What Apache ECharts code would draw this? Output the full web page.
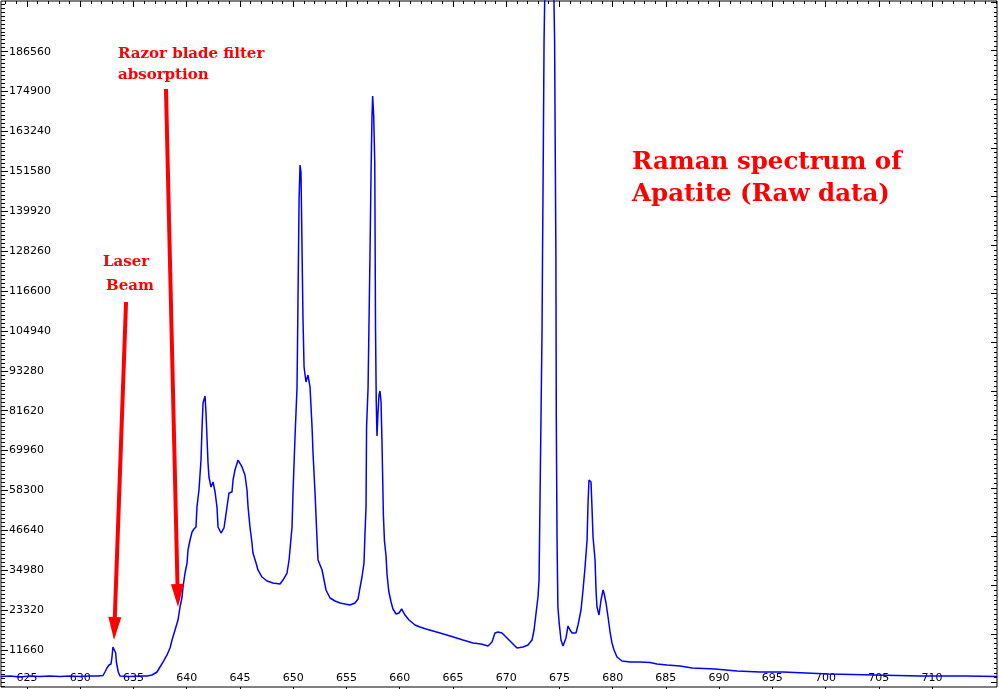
<!DOCTYPE html>
<html><head><meta charset="utf-8">
<script src="https://cdn.jsdelivr.net/npm/echarts@6/dist/echarts.min.js"></script>
<style>html,body{margin:0;padding:0;background:#fff}#c{width:999px;height:689px}</style>
</head><body><div id="c"></div>
<script>
// Wavelength (nm) and raw intensity (counts)
const wavelength = [
622.56, 623.40, 624.34, 625.28, 626.22, 627.16, 628.10, 629.04, 629.98, 630.92,
631.67, 632.14, 632.32, 632.51, 632.70, 632.89, 632.98, 633.07, 633.22, 633.33,
633.39, 633.48, 633.57, 633.73, 634.67, 635.61, 636.27, 636.74, 637.21, 637.49,
637.77, 638.15, 638.43, 638.62, 638.90, 639.18, 639.37, 639.56, 639.65, 639.84,
640.03, 640.12, 640.31, 640.50, 640.68, 640.87, 640.96, 641.15, 641.34, 641.43,
641.53, 641.72, 641.81, 641.90, 642.00, 642.09, 642.28, 642.47, 642.66, 642.84,
642.94, 643.22, 643.50, 643.78, 643.97, 644.25, 644.35, 644.53, 644.82, 645.19,
645.47, 645.66, 645.76, 645.94, 646.13, 646.22, 646.51, 646.69, 647.07, 647.54,
648.10, 648.76, 649.04, 649.42, 649.61, 649.89, 649.98, 650.17, 650.36, 650.45,
650.55, 650.64, 650.73, 650.83, 650.92, 651.02, 651.20, 651.39, 651.58, 651.77,
651.86, 652.05, 652.24, 652.33, 652.71, 653.08, 653.46, 653.93, 654.40, 654.86,
655.33, 655.80, 656.09, 656.27, 656.46, 656.65, 656.74, 656.84, 656.89, 657.03,
657.21, 657.31, 657.40, 657.46, 657.56, 657.66, 657.73, 657.80, 657.87, 657.96,
658.06, 658.15, 658.25, 658.34, 658.47, 658.57, 658.72, 658.81, 658.97, 659.19,
659.37, 659.66, 659.94, 660.18, 660.50, 660.88, 661.44, 661.91, 662.47, 663.13,
663.79, 664.73, 665.95, 666.89, 667.64, 668.30, 668.67, 668.95, 669.24, 669.61,
670.08, 670.55, 671.02, 671.58, 672.05, 672.43, 672.62, 672.81, 672.99, 673.09,
673.18, 673.27, 673.37, 673.42, 673.49, 673.56, 674.05, 674.55, 674.61, 674.67,
674.71, 674.78, 674.86, 674.98, 675.15, 675.34, 675.62, 675.81, 676.00, 676.19,
676.56, 676.75, 677.03, 677.22, 677.41, 677.60, 677.69, 677.78, 677.97, 678.06,
678.16, 678.35, 678.44, 678.53, 678.72, 678.91, 679.10, 679.19, 679.38, 679.57,
679.76, 679.94, 680.13, 680.41, 680.88, 681.63, 682.57, 683.51, 684.17, 685.11,
686.33, 687.46, 689.62, 691.68, 693.84, 696.00, 698.16, 700.32, 704.64, 708.87,
713.19, 716.10
];
const intensity = [
3910, 4060, 3770, 4060, 3910, 4060, 3910, 4060, 3910, 4060,
4060, 4210, 5230, 6400, 7280, 7570, 9610, 12540, 12830, 10780,
8150, 8150, 5230, 4060, 3910, 4060, 4060, 4350, 5230, 6690,
8150, 10200, 12250, 14580, 17510, 20430, 24230, 27150, 30080, 34170,
37090, 40890, 43820, 46160, 47030, 47620, 53460, 58430, 67200, 75970,
83870, 85910, 80940, 73930, 66330, 62230, 59310, 60770, 57850, 53460,
47620, 45860, 47330, 53460, 57560, 57850, 61360, 64280, 67200, 65160,
62820, 58430, 53460, 47620, 42940, 40020, 37090, 35050, 33000, 31830,
31250, 30950, 32120, 34170, 37970, 47620, 57560, 73930, 88540, 113980,
143210, 153440, 151390, 128600, 108130, 94390, 90000, 92050, 88540, 76850,
69250, 57560, 43820, 37970, 35050, 29200, 26860, 25990, 25400, 25110,
24820, 25400, 26570, 29790, 33000, 37090, 45570, 53760, 76850, 88250,
126840, 150810, 167770, 173610, 167770, 154030, 106080, 84160, 74220, 80940,
86210, 87370, 84160, 72170, 51130, 43520, 39140, 33880, 28910, 25690,
23650, 22180, 22480, 23650, 21890, 20430, 18970, 18380, 17800, 17220,
16630, 15750, 14580, 13710, 13420, 12830, 14000, 16630, 16920, 16630,
15170, 13710, 12250, 12540, 13120, 14580, 17510, 22480, 27150, 32120,
55510, 78900, 105200, 128600, 157830, 189980, 285000, 189980, 157830, 128600,
78900, 43820, 24230, 19550, 14580, 12830, 15170, 18680, 17510, 16630,
16630, 18970, 23350, 29200, 35920, 43820, 54630, 61360, 60770, 53460,
44690, 37970, 29200, 24230, 21890, 26280, 29200, 28320, 25400, 21310,
16920, 13710, 11660, 9610, 8450, 8150, 8150, 8010, 7570, 7280,
6980, 6400, 6110, 5520, 5230, 5230, 4940, 4650, 4350, 4060,
4060, 3910
];
const xTickLabels = [625, 630, 635, 640, 645, 650, 655, 660, 665, 670, 675, 680, 685, 690, 695, 700, 705, 710];
const yTickLabels = [11660, 23320, 34980, 46640, 58300, 69960, 81620, 93280, 104940, 116600, 128260, 139920, 151580, 163240, 174900, 186560];

const X_MIN = 622.556, X_MAX = 716.10, Y_MIN = 845, Y_MAX = 201380;

// minor tick positions
const xMinor = []; for (let v = 623; v <= 716; v++) xMinor.push(v);
const yMinor = []; for (let v = 1166; v < Y_MAX; v += 1166) yMinor.push(v);
const yRightMajor = []; for (let k = -1; k < 14; k++) yRightMajor.push(186860 - k * 14207);
const yRightMinor = []; for (let v = 186860 - 14 * 14207; v < Y_MAX; v += 1420.7) if (v > Y_MIN) yRightMinor.push(v);

const labelFont = { fontFamily: 'DejaVu Sans', fontSize: 11, color: '#000' };
function ax(kind, pos, ticks, len, inside, labels, margin) {
  const a = {
    type: 'value', position: pos,
    min: kind === 'x' ? X_MIN : Y_MIN, max: kind === 'x' ? X_MAX : Y_MAX,
    axisLine: { show: false }, splitLine: { show: false },
    axisTick: { show: true, inside: inside, length: len, customValues: ticks, lineStyle: { color: '#000', width: 1 } },
    axisLabel: { show: false }
  };
  if (labels) a.axisLabel = Object.assign({ show: true, inside: true, margin: margin, customValues: labels, formatter: v => String(v) }, labelFont);
  return a;
}

const chart = echarts.init(document.getElementById('c'));
chart.setOption({
  animation: false,
  backgroundColor: '#fff',
  grid: { left: 1, right: 2, top: 1, bottom: 2, show: true, borderColor: '#000', borderWidth: 1, backgroundColor: 'transparent' },
  xAxis: [
    ax('x', 'bottom', xTickLabels, 3, false, xTickLabels, 3),
    ax('x', 'top', xMinor, 3, true),
    ax('x', 'top', xTickLabels, 6, true)
  ],
  yAxis: [
    ax('y', 'left', yTickLabels, 7, true, yTickLabels, 8),
    ax('y', 'left', yMinor, 4, true),
    ax('y', 'right', yRightMajor, 6, true),
    ax('y', 'right', yRightMinor, 3, true)
  ],
  series: [{
    type: 'line', xAxisIndex: 0, yAxisIndex: 0,
    data: wavelength.map((w, i) => [w, intensity[i]]),
    showSymbol: false, symbol: 'none', clip: true,
    lineStyle: { color: '#0000ff', width: 1.5 }
  }]
});

// annotations: arrows anchored in data coordinates
const arrows = [
  { from: [634.30, 113390], to: [633.17, 14585] },
  { from: [638.05, 175660], to: [639.18, 24231] }
];
const graphics = [];
arrows.forEach(a => {
  const p0 = chart.convertToPixel({ xAxisIndex: 0, yAxisIndex: 0 }, a.from);
  const p1 = chart.convertToPixel({ xAxisIndex: 0, yAxisIndex: 0 }, a.to);
  const dx = p1[0] - p0[0], dy = p1[1] - p0[1], L = Math.hypot(dx, dy);
  const ux = dx / L, uy = dy / L, nx = -uy, ny = ux;
  const headLen = 23, hw = 6.5;
  const bx = p1[0] - ux * headLen, by = p1[1] - uy * headLen;
  graphics.push({ type: 'line', shape: { x1: p0[0], y1: p0[1], x2: bx, y2: by }, style: { stroke: '#ff0000', lineWidth: 4 }, z: 10 });
  graphics.push({ type: 'polygon', shape: { points: [[p1[0], p1[1]], [bx + nx * hw, by + ny * hw], [bx - nx * hw, by - ny * hw]] }, style: { fill: '#ff0000' }, z: 10 });
});
const smallFont = 'bold 15px "DejaVu Serif"';
const bigFont = 'bold 24.5px "DejaVu Serif"';
const texts = [
  { t: 'Razor blade filter', x: 118, y: 54.5, f: smallFont },
  { t: 'absorption', x: 118, y: 75.5, f: smallFont },
  { t: 'Laser', x: 103, y: 262.5, f: smallFont },
  { t: 'Beam', x: 106, y: 286.5, f: smallFont },
  { t: 'Raman spectrum of', x: 632, y: 162.5, f: bigFont },
  { t: 'Apatite (Raw data)', x: 632, y: 194.5, f: bigFont }
];
texts.forEach(o => graphics.push({ type: 'text', z: 11, style: { text: o.t, x: o.x, y: o.y, font: o.f, fill: '#ff0000', align: 'left', verticalAlign: 'middle' } }));
chart.setOption({ graphic: graphics });
</script>
</body></html>
